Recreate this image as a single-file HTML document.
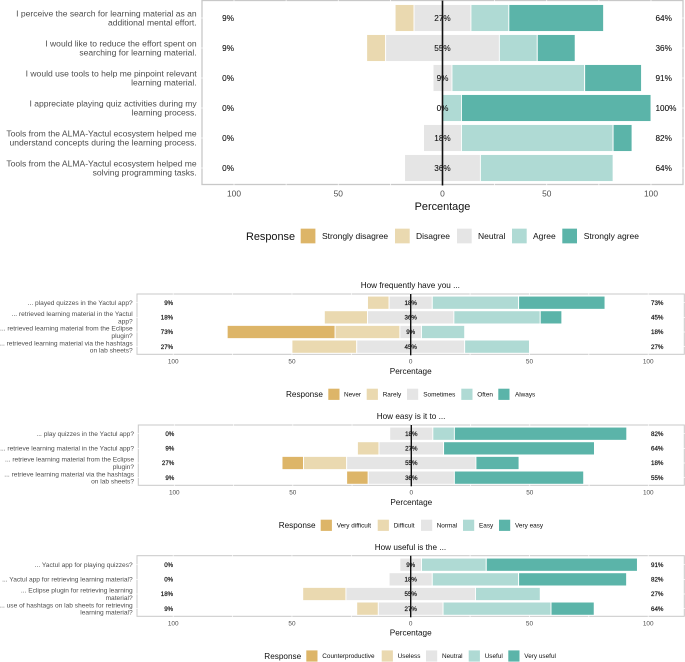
<!DOCTYPE html>
<html lang="en">
<head>
<meta charset="utf-8">
<title>Likert survey responses</title>
<style>
html,body{margin:0;padding:0;background:#fff;}
svg{display:block;font-family:"Liberation Sans",sans-serif;filter:blur(0.3px);}
</style>
</head>
<body>
<svg id="root" width="685" height="662" viewBox="0 0 685 662" xmlns="http://www.w3.org/2000/svg"></svg>
<script>
// ---- Chart data (percent of respondents) ----
const tickValues = [100, 50, 0, 50, 100];
const tickPositions = [-100, -50, 0, 50, 100];

const attitudeCategories = [
  'I perceive the search for learning material as an\nadditional mental effort.',
  'I would like to reduce the effort spent on\nsearching for learning material.',
  'I would use tools to help me pinpoint relevant\nlearning material.',
  'I appreciate playing quiz activities during my\nlearning process.',
  'Tools from the ALMA-Yactul ecosystem helped me\nunderstand concepts during the learning process.',
  'Tools from the ALMA-Yactul ecosystem helped me\nsolving programming tasks.'
];
const attitudeLevels = ['Strongly disagree', 'Disagree', 'Neutral', 'Agree', 'Strongly agree'];
const attitudeStrongNeg = [0, 0, 0, 0, 0, 0];
const attitudeNeg = [9.09, 9.09, 0, 0, 0, 0];
const attitudeNeutral = [27.27, 54.55, 9.09, 0, 18.18, 36.36];
const attitudePos = [18.18, 18.18, 63.64, 9.09, 72.73, 63.64];
const attitudeStrongPos = [45.45, 18.18, 27.27, 90.91, 9.09, 0];

const frequencyCategories = [
  '... played quizzes in the Yactul app?',
  '... retrieved learning material in the Yactul\napp?',
  '... retrieved learning material from the Eclipse\nplugin?',
  '... retrieved learning material via the hashtags\non lab sheets?'
];
const frequencyLevels = ['Never', 'Rarely', 'Sometimes', 'Often', 'Always'];
const frequencyStrongNeg = [0, 0, 45.45, 0];
const frequencyNeg = [9.09, 18.18, 27.27, 27.27];
const frequencyNeutral = [18.18, 36.36, 9.09, 45.45];
const frequencyPos = [36.36, 36.36, 18.18, 27.27];
const frequencyStrongPos = [36.36, 9.09, 0, 0];

const easeCategories = [
  '... play quizzes in the Yactul app?',
  '... retrieve learning material in the Yactul app?',
  '... retrieve learning material from the Eclipse\nplugin?',
  '... retrieve learning material via the hashtags\non lab sheets?'
];
const easeLevels = ['Very difficult', 'Difficult', 'Normal', 'Easy', 'Very easy'];
const easeStrongNeg = [0, 0, 9.09, 9.09];
const easeNeg = [0, 9.09, 18.18, 0];
const easeNeutral = [18.18, 27.27, 54.55, 36.36];
const easePos = [9.09, 0, 0, 0];
const easeStrongPos = [72.73, 63.64, 18.18, 54.55];

const usefulCategories = [
  '... Yactul app for playing quizzes?',
  '... Yactul app for retrieving learning material?',
  '... Eclipse plugin for retrieving learning\nmaterial?',
  '... use of hashtags on lab sheets for retrieving\nlearning material?'
];
const usefulLevels = ['Counterproductive', 'Useless', 'Neutral', 'Useful', 'Very useful'];
const usefulStrongNeg = [0, 0, 0, 0];
const usefulNeg = [0, 0, 18.18, 9.09];
const usefulNeutral = [9.09, 18.18, 54.55, 27.27];
const usefulPos = [27.27, 36.36, 27.27, 45.45];
const usefulStrongPos = [63.64, 45.45, 0, 18.18];

// ---- Styling and layout ----
const levelColors = ['#ddb568', '#ead9b0', '#e5e5e5', '#afdad4', '#5bb4a9'];
const NS = 'http://www.w3.org/2000/svg';
const root = document.getElementById('root');

const charts = [
  {
    key: 'attitude', categories: attitudeCategories, levels: attitudeLevels,
    series: [attitudeStrongNeg, attitudeNeg, attitudeNeutral, attitudePos, attitudeStrongPos],
    left: 202, right: 683, top: 0.5, bottom: 184.5, zero: 442.5, unit: 2.085,
    firstRow: 18, rowStep: 30, labelRight: 196.7, rightLabelX: 655.5,
    catFont: 8.55, catLine: 9.4, tickFont: 8.4, valFont: 8.2, valStroke: 0.1, titleFont: 10.9, respFont: 10.9, legFont: 8.5,
    border: 1.3, zeroWidth: 1.6,
    tickY: 193.7, axisTitleY: 206, legendY: 236, swatch: 14.7, respX: 246,
    legendSwatchX: [300.7, 395, 457, 512, 562.3], legendLabelX: [322, 416, 478, 533, 583.7]
  },
  {
    key: 'frequency', categories: frequencyCategories, levels: frequencyLevels,
    series: [frequencyStrongNeg, frequencyNeg, frequencyNeutral, frequencyPos, frequencyStrongPos],
    left: 137, right: 684.3, top: 294, bottom: 354.3, zero: 410.7, unit: 2.375,
    firstRow: 302.7, rowStep: 14.65, labelRight: 132.7, rightLabelX: 651,
    catFont: 6.6, catLine: 7.3, tickFont: 6.4, valFont: 6.2, valStroke: 0.2, titleFont: 8.2, respFont: 8.2, legFont: 6.4,
    border: 1, zeroWidth: 1.4,
    plotTitle: 'How frequently have you ...', plotTitleX: 360.7, plotTitleY: 285.3,
    tickY: 361.3, axisTitleY: 371, legendY: 394.3, swatch: 11.2, respX: 286,
    legendSwatchX: [328.3, 366.7, 407, 461.3, 498.3], legendLabelX: [344, 382.7, 423.3, 477.3, 515]
  },
  {
    key: 'ease', categories: easeCategories, levels: easeLevels,
    series: [easeStrongNeg, easeNeg, easeNeutral, easePos, easeStrongPos],
    left: 138.3, right: 684.3, top: 425, bottom: 485.3, zero: 411.3, unit: 2.37,
    firstRow: 433.7, rowStep: 14.65, labelRight: 134, rightLabelX: 651,
    catFont: 6.6, catLine: 7.3, tickFont: 6.4, valFont: 6.2, valStroke: 0.2, titleFont: 8.2, respFont: 8.2, legFont: 6.4,
    border: 1, zeroWidth: 1.4,
    plotTitle: 'How easy is it to ...', plotTitleX: 376.7, plotTitleY: 416,
    tickY: 492.3, axisTitleY: 502, legendY: 525.3, swatch: 11.2, respX: 278.7,
    legendSwatchX: [320.7, 377.7, 421, 463, 499], legendLabelX: [336.7, 393.7, 436.7, 479, 515]
  },
  {
    key: 'usefulness', categories: usefulCategories, levels: usefulLevels,
    series: [usefulStrongNeg, usefulNeg, usefulNeutral, usefulPos, usefulStrongPos],
    left: 137, right: 684.3, top: 555.7, bottom: 616.3, zero: 410.7, unit: 2.375,
    firstRow: 564.7, rowStep: 14.65, labelRight: 132.7, rightLabelX: 651,
    catFont: 6.6, catLine: 7.3, tickFont: 6.4, valFont: 6.2, valStroke: 0.2, titleFont: 8.2, respFont: 8.2, legFont: 6.4,
    border: 1, zeroWidth: 1.4,
    plotTitle: 'How useful is the ...', plotTitleX: 374.7, plotTitleY: 547,
    tickY: 623.3, axisTitleY: 632.7, legendY: 656, swatch: 11.2, respX: 264.3,
    legendSwatchX: [306.3, 381.7, 426, 468.7, 508.3], legendLabelX: [322.3, 397.7, 442, 484.7, 524.3]
  }
];

function make(tag, attrs, parent) {
  const node = document.createElementNS(NS, tag);
  for (const k in attrs) node.setAttribute(k, attrs[k]);
  parent.appendChild(node);
  return node;
}
function label(parent, str, x, y, size, fill, anchor, strokeW) {
  const t = make('text', {x: x, y: y + size * 0.35, 'font-size': size, fill: fill, 'text-anchor': anchor || 'start'}, parent);
  if (strokeW) {
    t.setAttribute('stroke', fill);
    t.setAttribute('stroke-width', strokeW);
  }
  t.textContent = str;
  return t;
}
function pct(v) { return Math.round(v) + '%'; }

charts.forEach(function (c) {
  const xScale = function (v) { return c.zero + v * c.unit; };
  const yScale = function (i) { return c.firstRow + i * c.rowStep; };
  const barH = c.rowStep * 0.9;

  const g = make('g', {}, root);
  
  

  // panel border
  const panel = make('rect', {x: c.left, y: c.top, width: c.right - c.left, height: c.bottom - c.top, fill: '#fff', stroke: '#c8c8c8', 'stroke-width': c.border}, g);
  
  

  // white grid lines cut small gaps into the border
  for (let v = -100; v <= 100; v += 25) {
    const gl = make('line', {x1: xScale(v), x2: xScale(v), y1: c.top - 1, y2: c.bottom + 1, stroke: '#fff', 'stroke-width': 0.7}, g);
    
    
  }
  c.categories.forEach(function (_, i) {
    const gl = make('line', {x1: c.left - 1, x2: c.right + 1, y1: yScale(i), y2: yScale(i), stroke: '#fff', 'stroke-width': 0.7}, g);
    
    
  });

  // category labels
  c.categories.forEach(function (cat, i) {
    const lines = cat.split('\n');
    const y0 = yScale(i) - (lines.length - 1) * c.catLine / 2;
    lines.forEach(function (ln, j) {
      const t = label(g, ln, c.labelRight, y0 + j * c.catLine, c.catFont, '#4d4d4d', 'end');
      
      
    });
  });

  // stacked bars, centred on the neutral level
  c.categories.forEach(function (_, i) {
    const s = c.series;
    const y = yScale(i) - barH / 2;
    const half = s[2][i] / 2;
    const spans = [
      [-half - s[1][i] - s[0][i], -half - s[1][i]],
      [-half - s[1][i], -half],
      [-half, half],
      [half, half + s[3][i]],
      [half + s[3][i], half + s[3][i] + s[4][i]]
    ];
    spans.forEach(function (sp, k) {
      if (sp[1] - sp[0] <= 0) return;
      const bar = make('rect', {x: xScale(sp[0]), y: y, width: xScale(sp[1]) - xScale(sp[0]), height: barH, fill: levelColors[k], stroke: '#fff', 'stroke-width': 0.9}, g);
      
      
    });
  });

  // zero line
  const zl = make('line', {x1: xScale(0), x2: xScale(0), y1: c.top, y2: c.bottom + 1, stroke: '#111', 'stroke-width': c.zeroWidth}, g);
  
  

  // percentage labels
  c.categories.forEach(function (_, i) {
    const s = c.series;
    const neg = label(g, pct(s[0][i] + s[1][i]), xScale(-100), yScale(i), c.valFont, '#111', 'end', c.valStroke);
    
    
    const neu = label(g, pct(s[2][i]), xScale(0), yScale(i), c.valFont, '#111', 'middle', c.valStroke);
    
    
    const posT = label(g, pct(s[3][i] + s[4][i]), c.rightLabelX, yScale(i), c.valFont, '#111', 'start', c.valStroke);
    
    
  });

  // x ticks
  tickPositions.forEach(function (p, i) {
    const t = label(g, String(tickValues[i]), xScale(p), c.tickY, c.tickFont, '#4d4d4d', 'middle');
    
    
  });

  // axis title
  const at = label(g, 'Percentage', xScale(0), c.axisTitleY, c.titleFont, '#111', 'middle');
  
  

  // plot title
  if (c.plotTitle) {
    const pt = label(g, c.plotTitle, c.plotTitleX, c.plotTitleY, c.titleFont, '#111', 'start');
    
    
  }

  // legend
  const rt = label(g, 'Response', c.respX, c.legendY, c.respFont, '#111', 'start');
  
  
  c.levels.forEach(function (lv, k) {
    const sw = make('rect', {x: c.legendSwatchX[k], y: c.legendY - c.swatch / 2, width: c.swatch, height: c.swatch, fill: levelColors[k]}, g);
    
    
    const lt = label(g, lv, c.legendLabelX[k], c.legendY, c.legFont, '#111', 'start');
    
    
  });
});
</script>
</body>
</html>
